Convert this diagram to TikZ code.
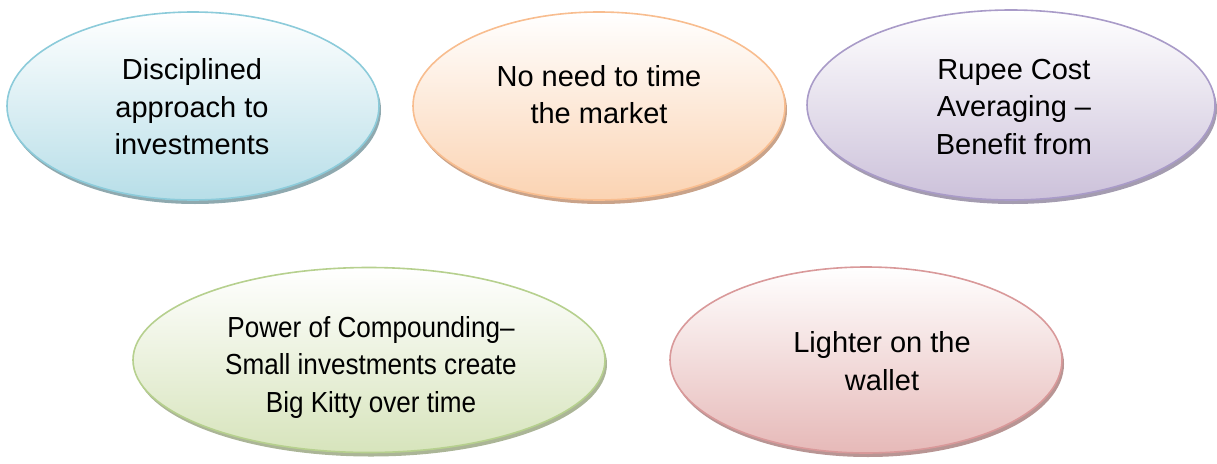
\documentclass[tikz,border=0pt]{standalone}
\usepackage{fontspec}
\setmainfont{Liberation Sans}
\newfontfamily\condfont[FakeStretch=0.9]{Liberation Sans}
\usetikzlibrary{shapes.geometric,shadows}
\definecolor{bluel}{HTML}{8CCBDA}
\definecolor{bluef}{HTML}{B7DEE8}
\definecolor{blues}{HTML}{8FA9AF}
\definecolor{orl}{HTML}{F8BD8F}
\definecolor{orf}{HTML}{FBD3B2}
\definecolor{ors}{HTML}{C9A38A}
\definecolor{pul}{HTML}{A99BC8}
\definecolor{puf}{HTML}{CCC1DA}
\definecolor{pus}{HTML}{A49CB0}
\definecolor{grl}{HTML}{B6D08E}
\definecolor{grf}{HTML}{D7E4BC}
\definecolor{grs}{HTML}{ABB597}
\definecolor{rel}{HTML}{D9999A}
\definecolor{ref}{HTML}{E6B9B8}
\definecolor{res}{HTML}{B89594}
\tikzset{
  oval/.style n args={5}{ellipse, inner sep=0pt, minimum width=#1pt, minimum height=#2pt,
    draw=#3, line width=1.6pt, top color=white, bottom color=#4,
    drop shadow={shadow xshift=2pt, shadow yshift=-4pt, fill=#5, opacity=1}},
  lbl/.style={align=center, inner sep=0pt, font=\fontsize{29}{37.5}\selectfont, text=black},
}
\begin{document}
\begin{tikzpicture}[x=1pt,y=-1pt]
\useasboundingbox (0,0) rectangle (1217,463);
\node[oval={372}{188}{bluel}{bluef}{blues}] (e1) at (193,106) {};
\node[oval={372}{188}{orl}{orf}{ors}] (e2) at (599,106) {};
\node[oval={408}{190}{pul}{puf}{pus}] (e3) at (1011,105) {};
\node[oval={472}{185}{grl}{grf}{grs}] (e4) at (369,360) {};
\node[oval={392}{186}{rel}{ref}{res}] (e5) at (866,360) {};
\node[lbl] (t1) at (192,109.5) {\strut Disciplined\\\strut approach to\\\strut investments};
\node[lbl] (t2) at (599,97.5) {\strut No need to time\\\strut the market};
\node[lbl] (t3) at (1014,109) {\strut Rupee Cost\\\strut Averaging –\\\strut Benefit from};
\node[lbl, font=\condfont\fontsize{29}{37.5}\selectfont] (t4) at (371,367) {\strut Power of Compounding–\\\strut Small investments create\\\strut Big Kitty over time};
\node[lbl] (t5) at (882,364) {\strut Lighter on the\\\strut wallet};
\end{tikzpicture}
\end{document}
